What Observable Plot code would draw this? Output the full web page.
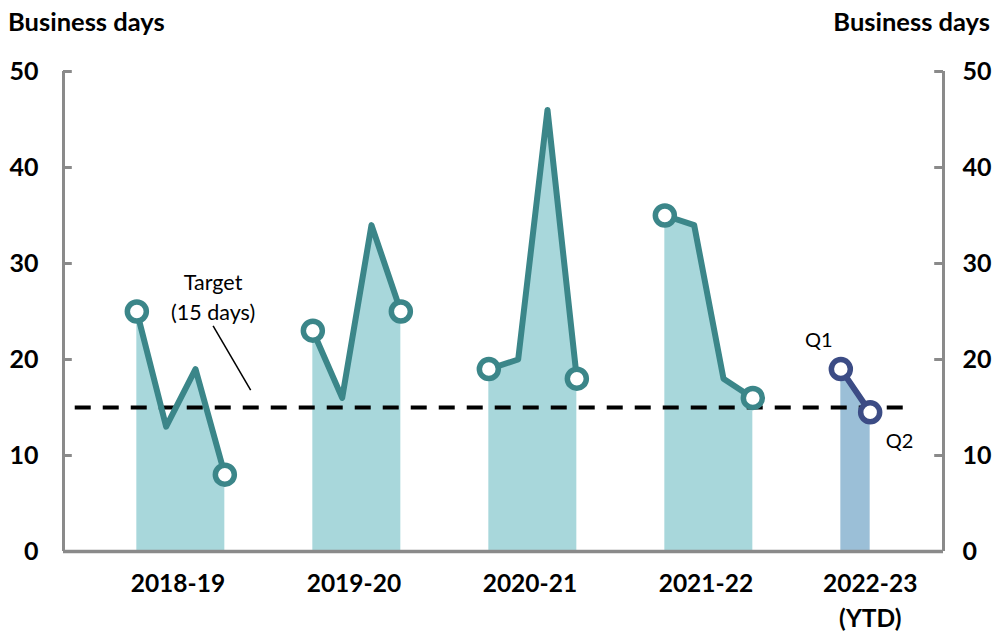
<!DOCTYPE html>
<html>
<head>
<meta charset="utf-8">
<script src="https://cdn.jsdelivr.net/npm/d3@7"></script>
<script src="https://cdn.jsdelivr.net/npm/@observablehq/plot@0.6"></script>
<style>
  html, body { margin: 0; padding: 0; background: #fff; }
  #chart { width: 1000px; height: 635px; }
  svg { font-family: Lato, "Open Sans", sans-serif; }
</style>
</head>
<body>
<div id="chart"></div>
<script>
// ---- data ----
const years = ["2018-19", "2019-20", "2020-21", "2021-22", "2022-23"];
const yearLabels = ["2018-19", "2019-20", "2020-21", "2021-22", "2022-23\n(YTD)"];
const labelPositions = [1.4, 7.4, 13.4, 19.4, 25.0];
const values = [
  [25, 13, 19, 8],
  [23, 16, 34, 25],
  [19, 20, 46, 18],
  [35, 34, 18, 16],
  [19, 14.5]
];
const target = 15;
const yTicks = [0, 10, 20, 30, 40, 50];
const quarterNames = ["Q1", "Q2", "Q3", "Q4"];

// ---- styles ----
const teal = "#3b8689", tealFill = "#a8d7db";
const navy = "#3c4c85", blueFill = "#9bbfd7";
const axisGray = "#8a8a8a";

const rows = [];
years.forEach((yr, i) => {
  values[i].forEach((v, q) => {
    rows.push({year: yr, yi: i, q, x: i * 6 + q, value: v, ytd: i === years.length - 1,
               end: q === 0 || q === values[i].length - 1});
  });
});
const hist = rows.filter(d => !d.ytd);
const ytd = rows.filter(d => d.ytd);

const xDomain = [-2.5, 27.5];

const plot = Plot.plot({
  width: 1000,
  height: 635,
  marginTop: 71,
  marginBottom: 84,
  marginLeft: 63,
  marginRight: 57,
  style: {fontFamily: "Lato, 'Open Sans', sans-serif", background: "white"},
  x: {domain: xDomain},
  y: {domain: [0, 50]},
  marks: [
    Plot.areaY(hist, {x: "x", y: "value", z: "year", fill: tealFill, curve: "linear"}),
    Plot.areaY(ytd, {x: "x", y: "value", z: "year", fill: blueFill}),
    Plot.ruleY([target], {x1: -2.1, x2: 26.2, stroke: "black", strokeWidth: 3.8, strokeDasharray: "16,12"}),
    Plot.line(hist, {x: "x", y: "value", z: "year", stroke: teal, strokeWidth: 6, strokeLinejoin: "round", strokeLinecap: "round"}),
    Plot.line(ytd, {x: "x", y: "value", z: "year", stroke: navy, strokeWidth: 6, strokeLinejoin: "round"}),
    Plot.dot(hist.filter(d => d.end), {x: "x", y: "value", r: 9.5, fill: "white", stroke: teal, strokeWidth: 5.5}),
    Plot.dot(ytd, {x: "x", y: "value", r: 9.5, fill: "white", stroke: navy, strokeWidth: 5.5}),
    // axis frame
    Plot.ruleX([xDomain[0], xDomain[1]], {y1: 0, y2: 50, stroke: axisGray, strokeWidth: 3}),
    Plot.ruleY([0], {x1: xDomain[0], x2: xDomain[1], stroke: axisGray, strokeWidth: 3.5}),
    Plot.ruleY(yTicks.filter(t => t > 0), {x1: xDomain[0], x2: xDomain[0] + 0.3, stroke: axisGray, strokeWidth: 3}),
    Plot.ruleY(yTicks.filter(t => t > 0), {x1: xDomain[1] - 0.3, x2: xDomain[1], stroke: axisGray, strokeWidth: 3}),
    Plot.axisY(yTicks, {anchor: "left", tickSize: 0, tickPadding: 25, fontSize: 25, fontWeight: "bold", fill: "black"}),
    Plot.axisY(yTicks, {anchor: "right", tickSize: 0, tickPadding: 19, fontSize: 25, fontWeight: "bold", fill: "black"}),
    Plot.axisX(labelPositions, {tickSize: 0, tickPadding: 15, fontSize: 24.5, fontWeight: "bold", fill: "black",
      lineHeight: 1.45, tickFormat: (d, i) => yearLabels[i], label: null}),
    // annotations
    Plot.text(["Target\n(15 days)"], {x: 2.6, y: 26.7, fontSize: 21.5, lineHeight: 1.38, fill: "black"}),
    Plot.link([{x1: 2.6, y1: 23.5, x2: 3.88, y2: 16.8}], {x1: "x1", y1: "y1", x2: "x2", y2: "y2", stroke: "black", strokeWidth: 1.5}),
    Plot.text(ytd, {x: d => d.x + (d.q === 0 ? -0.75 : 1.0), y: d => d.value + (d.q === 0 ? 3.0 : -3.0),
      text: d => quarterNames[d.q], fontSize: 20, fill: "black"})
  ]
});

const svg = d3.select(plot);
svg.append("text").attr("x", 8).attr("y", 31).attr("text-anchor", "start").attr("font-size", 25.5).attr("font-weight", "bold")
  .attr("font-family", "Lato, 'Open Sans', sans-serif").text("Business days");
svg.append("text").attr("x", 990).attr("y", 31).attr("text-anchor", "end").attr("font-size", 25.5).attr("font-weight", "bold")
  .attr("font-family", "Lato, 'Open Sans', sans-serif").text("Business days");

document.getElementById("chart").appendChild(plot);
</script>
</body>
</html>
